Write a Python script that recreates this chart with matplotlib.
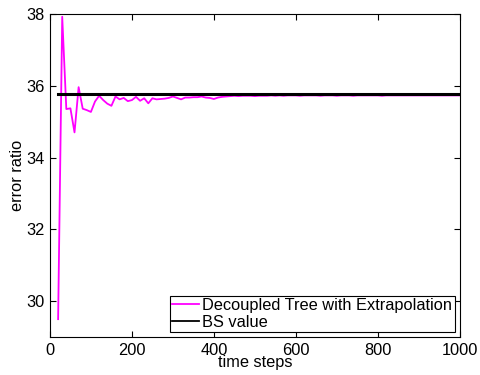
import numpy as np
import matplotlib
matplotlib.use('Agg')
import matplotlib.pyplot as plt

plt.rcParams['font.family'] = ['Liberation Sans', 'DejaVu Sans']

# time steps 20, 30, ..., 1000
steps = list(range(20, 1001, 10))

# decoupled tree with extrapolation
extrap = [
    29.50, 37.92, 35.35, 35.37, 34.70, 35.96, 35.36, 35.32, 35.27, 35.56,
    35.72, 35.60, 35.50, 35.44, 35.70, 35.62, 35.66, 35.57, 35.60, 35.69,
    35.58, 35.65, 35.51, 35.65, 35.62, 35.63, 35.64, 35.66, 35.70, 35.66,
    35.62, 35.67, 35.67, 35.68, 35.68, 35.70, 35.67, 35.66, 35.63, 35.67,
    35.69, 35.70, 35.71, 35.72, 35.71, 35.72, 35.72, 35.72, 35.71, 35.72,
    35.72, 35.72, 35.73, 35.72, 35.73, 35.72, 35.73, 35.73, 35.73, 35.72,
    35.73, 35.73, 35.73, 35.73, 35.72, 35.73, 35.73, 35.73, 35.72, 35.73,
    35.73, 35.73, 35.72, 35.73, 35.73, 35.73, 35.73, 35.73, 35.73, 35.72,
    35.73, 35.73, 35.73, 35.73, 35.73, 35.73, 35.73, 35.73, 35.73, 35.73,
    35.73, 35.73, 35.73, 35.73, 35.73, 35.73, 35.73, 35.73, 35.73,
]
bs_value = 35.76

fs = 11.8

fig = plt.figure(figsize=(4.8, 3.75), dpi=100)
ax = fig.add_axes([0.104, 0.101, 0.854, 0.862])

ax.plot(steps, extrap, color='#ff00ff', lw=1.3, label='Decoupled Tree with Extrapolation')
ax.plot([steps[0], steps[-1]], [bs_value, bs_value], color='black', lw=2.2, label='BS value')

ax.set_xlim(0, 1000)
ax.set_ylim(29, 38)
ax.set_xticks([0, 200, 400, 600, 800, 1000])
ax.set_yticks([30, 32, 34, 36, 38])
ax.tick_params(direction='in', top=True, right=True, length=4, labelsize=fs, pad=4)
ax.set_xlabel('time steps', fontsize=fs, labelpad=-2)
ax.set_ylabel('error ratio', fontsize=fs, labelpad=1)

leg = ax.legend(loc='lower right', fontsize=fs, fancybox=False, framealpha=1,
                edgecolor='black', borderaxespad=0.3, handlelength=1.65,
                handletextpad=0.2, borderpad=0.15, labelspacing=0.1)
leg.get_frame().set_linewidth(0.8)
for line in leg.get_lines():
    line.set_linewidth(1.3)

plt.savefig('out.png', dpi=100)
